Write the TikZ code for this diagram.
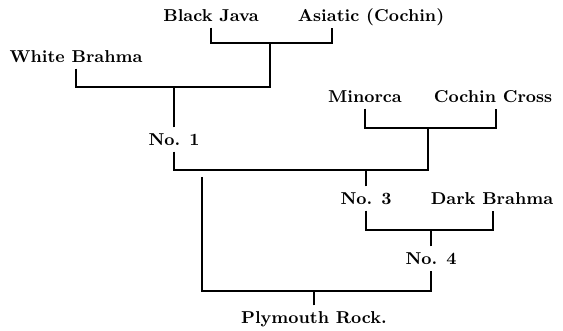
\documentclass[tikz,border=0pt]{standalone}
\usepackage{tikz}

\tikzset{breed/.style={anchor=base, inner xsep=0pt, inner ysep=2.5pt,
    text height=6.5pt, text depth=0pt, font=\fontsize{8.6}{10.5}\selectfont\bfseries}}

\begin{document}
\begin{tikzpicture}[x=0.5pt, y=-0.5pt, line width=0.55pt]
    \useasboundingbox (0,0) rectangle (563,331);

    % Breeds and crosses
    \node[breed] (java) at (211,22) {Black Java};
    \node[breed] (asiatic) at (371,22) {Asiatic (Cochin)};
    \node[breed] (white) at (76,63) {White Brahma};
    \node[breed] (no1) at (174,146) {No. 1};
    \node[breed] (minorca) at (365,103) {Minorca};
    \node[breed] (cochin) at (493,103) {Cochin Cross};
    \node[breed] (no3) at (366,205) {No. 3};
    \node[breed] (dark) at (492,205) {Dark Brahma};
    \node[breed] (no4) at (431,265) {No. 4};
    \node[breed] (plymouth) at (314,324) {Plymouth Rock.};

    % Corners of the brackets
    \coordinate (ja) at (332,43);
    \coordinate (jb) at (270,87);
    \coordinate (jc) at (428,170);
    \coordinate (jd) at (496,128);
    \coordinate (je) at (493,230);
    \coordinate (jf) at (202,177);
    \coordinate (jg) at (431,291);

    % Black Java x Asiatic, then White Brahma: No. 1
    \draw (java.south) |- (ja) -- (ja |- asiatic.south);
    \draw (white.south) |- (jb) -- (jb |- ja);
    \draw (no1.north) -- (no1.north |- jb);

    % Minorca x Cochin Cross, then No. 1: No. 3
    \draw (minorca.south) |- (jd) -- (jd |- cochin.south);
    \draw (no1.south) |- (jc) -- (jc |- jd);
    \draw (no3.north) -- (no3.north |- jc);

    % No. 3 x Dark Brahma: No. 4
    \draw (no3.south) |- (je) -- (je |- dark.south);
    \draw (no4.north) -- (no4.north |- je);

    % No. 1 x No. 4: Plymouth Rock
    \draw (jf) |- (jg) -- (no4.south);
    \draw (plymouth.north) -- (plymouth.north |- jg);
\end{tikzpicture}
\end{document}
